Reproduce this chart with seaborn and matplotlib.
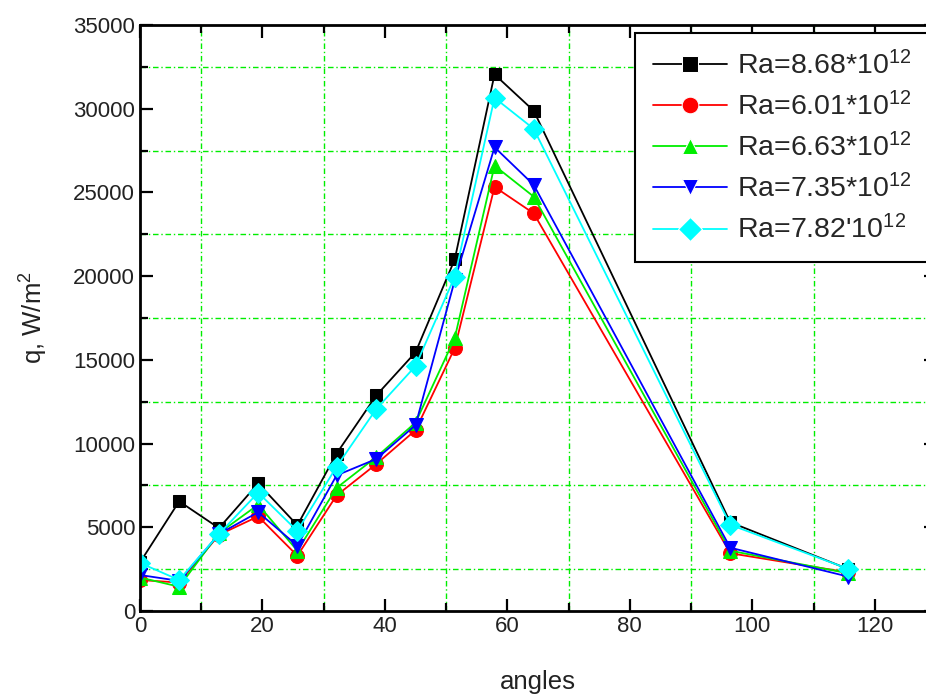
import matplotlib
matplotlib.use("Agg")
import matplotlib.pyplot as plt
import seaborn as sns
import pandas as pd
from matplotlib.ticker import MultipleLocator

# ---- data ----
angles = [0, 6.4, 12.9, 19.3, 25.7, 32.1, 38.6, 45.0, 51.4, 57.9, 64.3, 96.4, 115.7]
q_868 = [2900, 6550, 4950, 7620, 5120, 9400, 12880, 15450, 21000, 32050, 29880, 5300, 2500]
q_601 = [1850, 1700, 4550, 5650, 3300, 6900, 8780, 10800, 15700, 25330, 23750, 3450, 2300]
q_663 = [2000, 1450, 4650, 6350, 3600, 7350, 9200, 11250, 16300, 26600, 24750, 3600, 2250]
q_735 = [2150, 1800, 4600, 5900, 3900, 8100, 9080, 11100, 19750, 27700, 25450, 3780, 2050]
q_782 = [2870, 1850, 4600, 7070, 4780, 8620, 12070, 14630, 19970, 30650, 28800, 5150, 2510]

labels = ["Ra=8.68*10$^{12}$", "Ra=6.01*10$^{12}$", "Ra=6.63*10$^{12}$",
          "Ra=7.35*10$^{12}$", "Ra=7.82'10$^{12}$"]
series = [q_868, q_601, q_663, q_735, q_782]

rows = []
for lab, vals in zip(labels, series):
    for a, v in zip(angles, vals):
        rows.append({"angles": a, "q": v, "series": lab})
df = pd.DataFrame(rows)

colors = ["#000000", "#ff0000", "#00ee00", "#0000ff", "#00ffff"]
marks = ["s", "o", "^", "v", "D"]
msizes = [9, 10, 10, 10, 10]

sns.set_style("ticks")
plt.rcParams["font.family"] = ["Liberation Sans", "DejaVu Sans"]
plt.rcParams["mathtext.fontset"] = "custom"
plt.rcParams["mathtext.rm"] = "Liberation Sans"
plt.rcParams["mathtext.it"] = "Liberation Sans"
plt.rcParams["mathtext.default"] = "regular"

fig = plt.figure(figsize=(9.26, 6.95), dpi=100)
ax = fig.add_axes([140 / 926, 84 / 695, 796 / 926, 586 / 695])

sns.lineplot(data=df, x="angles", y="q", hue="series", style="series",
             hue_order=labels, style_order=labels,
             palette=dict(zip(labels, colors)),
             markers=dict(zip(labels, marks)), dashes=False,
             estimator=None, sort=False, linewidth=1.3, ax=ax, legend=True)

for line, ms, c in zip(ax.lines[:5], msizes, colors):
    line.set_markersize(ms)
    line.set_markeredgecolor(c)
    line.set_markerfacecolor(c)

ax.set_xlim(0, 130)
ax.set_ylim(0, 35000)
ax.xaxis.set_major_locator(MultipleLocator(20))
ax.xaxis.set_minor_locator(MultipleLocator(10))
ax.yaxis.set_major_locator(MultipleLocator(5000))
ax.yaxis.set_minor_locator(MultipleLocator(2500))
ax.grid(False)
ax.grid(which="minor", color="#00ee00", linestyle=(0, (4, 2, 1, 2)), linewidth=1.0)
ax.set_axisbelow(True)

ax.tick_params(which="both", direction="in", top=True, right=True,
               width=1.6, colors="black", labelcolor="#222222", labelsize=16)
ax.tick_params(which="major", length=9)
ax.tick_params(which="minor", length=6)
for sp in ax.spines.values():
    sp.set_linewidth(2.0)
    sp.set_color("black")
    sp.set_visible(True)

ax.set_xlabel("angles", fontsize=18.5, color="#222222", labelpad=24)
ax.set_ylabel("q, W/m$^2$", fontsize=18.5, color="#222222", labelpad=17)

handles, labs = ax.get_legend_handles_labels()
for h, ms in zip(handles, msizes):
    h.set_markersize(ms + 2)
leg = ax.legend(handles, labs, loc="upper left",
                bbox_to_anchor=(635 / 926, 1 - 33 / 695), bbox_transform=fig.transFigure,
                borderaxespad=0, fontsize=20.5, frameon=True, fancybox=False,
                handlelength=2.6, handletextpad=0.35, labelspacing=0.42,
                borderpad=0.62)
leg.get_frame().set_edgecolor("black")
leg.get_frame().set_linewidth(1.5)
leg.get_frame().set_alpha(1)

fig.savefig("out.png", dpi=100)
